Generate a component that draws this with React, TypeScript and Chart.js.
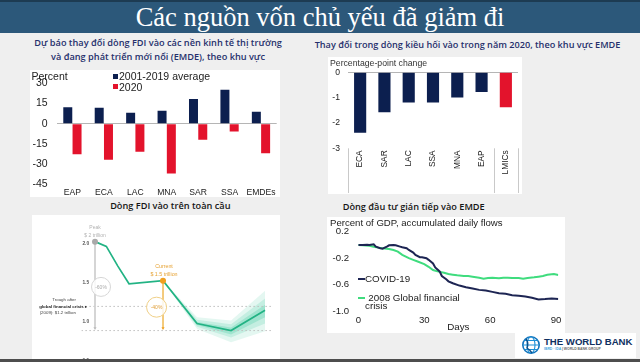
import React, { useEffect, useRef } from "react";
import { Chart, registerables } from "chart.js";

Chart.register(...registerables);
Chart.defaults.font.family = "'Liberation Sans', Arial, sans-serif";
Chart.defaults.color = "#222";

// ---------- Chart 1: FDI change by region ----------
const fdiRegions = ["EAP", "ECA", "LAC", "MNA", "SAR", "SSA", "EMDEs"];
const fdiAverage = [12.3, 11.9, 8.2, 9.6, 18.3, 25.2, 8.9];
const fdi2020 = [-22.6, -26.7, -20.8, -36.9, -11.9, -5.7, -22.0];
const fdiSeriesNames = ["2001-2019 average", "2020"];

// ---------- Chart 2: remittances change ----------
const remitRegions = ["ECA", "SAR", "LAC", "SSA", "MNA", "EAP", "LMICs"];
const remitChange = [-2.39, -1.58, -1.19, -1.19, -0.99, -0.78, -1.38];

// ---------- Chart 3: global FDI ($ trillion) ----------
const globalPos = [0, 1, 2, 3, 6, 9, 12, 15];
const globalFdi = [2.03, 1.97, 1.72, 1.49, 1.53, 0.98, 0.89, 1.15];
const bandPos = [6, 9, 12, 15];
const outerHi = [1.53, 1.06, 1.02, 1.4];
const outerLo = [1.53, 0.91, 0.74, 0.88];
const midHi = [1.53, 1.03, 0.97, 1.3];
const midLo = [1.53, 0.94, 0.8, 0.98];
const innerHi = [1.53, 1.0, 0.93, 1.22];
const innerLo = [1.53, 0.96, 0.84, 1.06];
const troughLevel = 1.2;
const floorLevel = 0.89;
const arrowEnd = 0.92;
const pctBadges = [
  { x: 0.53, y: 1.45 },
  { x: 5.43, y: 1.19 },
];

// ---------- Chart 4: portfolio flows ----------
const covidDays = [0, 2, 4, 5, 7, 8, 10, 11, 13, 14, 16, 17, 19, 20, 22, 23, 25, 26, 28, 29, 31, 32, 34, 35, 37, 38, 40, 41, 43, 46, 49, 52, 55, 58, 61, 64, 67, 70, 73, 76, 79, 82, 85, 88, 91];
const covidFlows = [0, 0, 0.005, 0, 0.01, -0.025, -0.05, -0.055, -0.025, -0.005, 0, -0.005, -0.025, -0.035, -0.05, -0.075, -0.115, -0.15, -0.185, -0.185, -0.2, -0.225, -0.28, -0.34, -0.4, -0.47, -0.52, -0.55, -0.58, -0.615, -0.64, -0.66, -0.68, -0.69, -0.71, -0.73, -0.74, -0.76, -0.77, -0.78, -0.8, -0.825, -0.82, -0.81, -0.82];
const gfcDays = [0, 2, 5, 7, 9, 11, 14, 16, 18, 20, 23, 25, 27, 30, 32, 34, 36, 39, 41, 43, 45, 48, 50, 52, 55, 57, 59, 61, 64, 66, 68, 70, 73, 75, 77, 80, 82, 84, 86, 89, 91];
const gfcFlows = [0, -0.005, -0.01, -0.025, -0.04, -0.05, -0.06, -0.075, -0.1, -0.15, -0.2, -0.225, -0.25, -0.29, -0.33, -0.38, -0.4, -0.42, -0.44, -0.45, -0.46, -0.47, -0.47, -0.48, -0.495, -0.51, -0.5, -0.495, -0.505, -0.495, -0.495, -0.5, -0.5, -0.51, -0.5, -0.49, -0.48, -0.47, -0.45, -0.44, -0.455];

const NAVY = "#0c1f4f";
const RED = "#e3132c";
const LINE_NAVY = "#1d2553";
const LINE_GREEN = "#3fdc7e";
const FDI_GREEN = "#22b384";
const ORANGE = "#f0a020";

const pts = (xs: number[], ys: number[]) => xs.map((x, i) => ({ x, y: ys[i] }));
const zeroGrid = (c: any) => (c.tick && Math.abs(c.tick.value) < 1e-9 ? "#b5b5b5" : "rgba(0,0,0,0)");
// fix an axis' size and drop the label-overhang padding Chart.js would add to the chart area
const fixWidth = (w: number) => (s: any) => { s.width = w; s.paddingTop = 0; s.paddingBottom = 0; };
const fixHeight = (h: number) => (s: any) => { s.height = h; };

function ChartCanvas({ left, top, width, height, make }: any) {
  const ref = useRef<HTMLCanvasElement>(null);
  useEffect(() => {
    const chart = new Chart(ref.current as HTMLCanvasElement, make());
    return () => chart.destroy();
  }, []);
  return (
    <canvas
      ref={ref}
      width={width}
      height={height}
      style={{ position: "absolute", left, top, width, height }}
    />
  );
}

function T({ x, y, text, size = 9, color = "#222", align = "left", weight = 400, family, style }: any) {
  const tx = align === "left" ? "0" : align === "center" ? "-50%" : "-100%";
  return (
    <div
      style={{
        position: "absolute",
        left: x,
        top: y,
        transform: `translate(${tx}, -50%)`,
        whiteSpace: "nowrap",
        fontSize: size,
        lineHeight: 1,
        color,
        fontWeight: weight,
        fontFamily: family || "'Liberation Sans', Arial, sans-serif",
        ...style,
      }}
    >
      {text}
    </div>
  );
}

const chart1 = () => ({
  type: "bar",
  data: {
    labels: fdiRegions,
    datasets: [
      { label: fdiSeriesNames[0], data: fdiAverage, backgroundColor: NAVY, categoryPercentage: 0.59, barPercentage: 0.97 },
      { label: fdiSeriesNames[1], data: fdi2020, backgroundColor: RED, categoryPercentage: 0.59, barPercentage: 0.97 },
    ],
  },
  options: {
    responsive: false,
    animation: false,
    layout: { autoPadding: false, padding: { top: 13.3, right: 3.3, left: 0, bottom: 0 } },
    plugins: { legend: { display: false }, tooltip: { enabled: false } },
    scales: {
      x: {
        grid: { display: false, drawTicks: false },
        border: { display: false },
        ticks: { font: { size: 8.6 }, color: "#222", padding: 3.5, maxRotation: 0, autoSkip: false },
        afterFit: fixHeight(12.7),
      },
      y: {
        min: -45,
        max: 30,
        ticks: { stepSize: 15, font: { size: 10.5 }, color: "#222", padding: 9 },
        grid: { color: zeroGrid, drawTicks: false, lineWidth: 1 },
        border: { display: false },
        afterFit: fixWidth(26.7),
      },
    },
  },
});

const separatorPlugin = {
  id: "separators",
  afterDraw(chart: any) {
    const { ctx, chartArea } = chart;
    const x = chart.scales.x;
    const half = (x.getPixelForValue(1) - x.getPixelForValue(0)) / 2;
    const xs = [x.getPixelForValue(0) - half, x.getPixelForValue(5) + half, x.getPixelForValue(6) + half];
    ctx.save();
    ctx.strokeStyle = "#c9c9c9";
    ctx.lineWidth = 1;
    xs.forEach((px: number) => {
      const p = Math.round(px) + 0.5;
      ctx.beginPath();
      ctx.moveTo(p, chartArea.bottom);
      ctx.lineTo(p, chart.height - 1);
      ctx.stroke();
    });
    ctx.restore();
  },
};

const chart2 = () => ({
  type: "bar",
  data: {
    labels: remitRegions,
    datasets: [
      {
        label: "Percentage-point change",
        data: remitChange,
        backgroundColor: remitRegions.map((r) => (r === "LMICs" ? RED : NAVY)),
        categoryPercentage: 0.5,
        barPercentage: 1,
      },
    ],
  },
  options: {
    responsive: false,
    animation: false,
    layout: { autoPadding: false, padding: { top: 15.3, right: 4, left: 0, bottom: 0 } },
    plugins: { legend: { display: false }, tooltip: { enabled: false } },
    scales: {
      x: {
        grid: { display: false, drawTicks: false },
        border: { display: false },
        ticks: { font: { size: 8.4 }, color: "#222", padding: 2, minRotation: 90, maxRotation: 90, autoSkip: false },
        afterFit: fixHeight(45.7),
      },
      y: {
        min: -3,
        max: 0,
        ticks: { stepSize: 1, font: { size: 8.6 }, color: "#222", padding: 8 },
        grid: { color: zeroGrid, drawTicks: false, lineWidth: 1 },
        border: { display: false },
        afterFit: fixWidth(20),
      },
    },
  },
  plugins: [separatorPlugin],
});

const band = (hi: number[], lo: number[], alpha: number) => [
  { data: pts(bandPos, hi), borderWidth: 0, pointRadius: 0, fill: "+1", backgroundColor: `rgba(34,190,140,${alpha})`, order: 10 },
  { data: pts(bandPos, lo), borderWidth: 0, pointRadius: 0, fill: false, order: 10 },
];

const chart3 = () => ({
  type: "line",
  data: {
    datasets: [
      ...band(outerHi, outerLo, 0.12),
      ...band(midHi, midLo, 0.16),
      ...band(innerHi, innerLo, 0.22),
      {
        data: [{ x: -1.2, y: troughLevel }, { x: 15.7, y: troughLevel }],
        borderColor: "#bdbdbd", borderWidth: 1, borderDash: [1.5, 2.5], pointRadius: 0, order: 9,
      },
      {
        data: [{ x: -1.2, y: floorLevel }, { x: 15.7, y: floorLevel }],
        borderColor: "#bdbdbd", borderWidth: 1, borderDash: [1.5, 2.5], pointRadius: 0, order: 9,
      },
      {
        data: [{ x: globalPos[0], y: globalFdi[0] }, { x: globalPos[0], y: arrowEnd }],
        borderColor: "#cfcfcf", borderWidth: 1, pointRadius: [0, 1.8], pointStyle: "triangle", rotation: 180,
        pointBackgroundColor: "#bbbbbb", pointBorderWidth: 0, order: 8,
      },
      {
        data: [{ x: globalPos[4], y: globalFdi[4] }, { x: globalPos[4], y: arrowEnd }],
        borderColor: "#f2c46a", borderWidth: 1, pointRadius: [0, 1.8], pointStyle: "triangle", rotation: 180,
        pointBackgroundColor: ORANGE, pointBorderWidth: 0, order: 8,
      },
      {
        data: pts(globalPos, globalFdi),
        borderColor: FDI_GREEN, borderWidth: 1.7, pointRadius: 0, tension: 0, order: 3,
      },
      {
        data: [pctBadges[0]],
        showLine: false, pointRadius: 9.5, pointBackgroundColor: "rgba(255,255,255,0.85)",
        pointBorderColor: "#d6d6d6", pointBorderWidth: 1, order: 2,
      },
      {
        data: [pctBadges[1]],
        showLine: false, pointRadius: 10, pointBackgroundColor: "rgba(255,255,255,0.85)",
        pointBorderColor: "#efcf86", pointBorderWidth: 1, order: 2,
      },
      {
        data: [{ x: globalPos[0], y: globalFdi[0] }],
        showLine: false, pointRadius: 3, pointBackgroundColor: "#a9a9a9", pointBorderWidth: 0, order: 1,
      },
      {
        data: [{ x: globalPos[4], y: globalFdi[4] }],
        showLine: false, pointRadius: 3, pointBackgroundColor: ORANGE, pointBorderWidth: 0, order: 1,
      },
    ],
  },
  options: {
    responsive: false,
    animation: false,
    layout: { autoPadding: false, padding: { top: 5.6, right: 7, left: 0, bottom: 1 } },
    plugins: { legend: { display: false }, tooltip: { enabled: false } },
    scales: {
      x: { type: "linear", min: -1.2, max: 15.7, display: false },
      y: {
        min: 0.5,
        max: 2.3,
        grid: { display: false, drawTicks: false },
        border: { display: false },
        ticks: {
          stepSize: 0.5,
          includeBounds: false,
          mirror: true,
          padding: 1,
          font: { size: 4.8, weight: "bold" },
          color: "#555",
          callback: (v: any) => Number(v).toFixed(1),
        },
        afterFit: fixWidth(49.4),
      },
    },
  },
});

const chart4 = () => ({
  type: "line",
  data: {
    datasets: [
      { label: "COVID-19", data: pts(covidDays, covidFlows), borderColor: LINE_NAVY, borderWidth: 2, pointRadius: 0, tension: 0 },
      { label: "2008 Global financial crisis", data: pts(gfcDays, gfcFlows), borderColor: LINE_GREEN, borderWidth: 2, pointRadius: 0, tension: 0 },
    ],
  },
  options: {
    responsive: false,
    animation: false,
    layout: { autoPadding: false, padding: { top: 14.8, right: 6.7, left: 0, bottom: 0 } },
    plugins: { legend: { display: false }, tooltip: { enabled: false } },
    scales: {
      x: {
        type: "linear",
        min: 0,
        max: 91,
        grid: { display: false, drawTicks: false },
        border: { display: false },
        ticks: { stepSize: 30, includeBounds: false, font: { size: 9.6 }, color: "#222", padding: 3.4, maxRotation: 0 },
        title: { display: true, text: "Days", font: { size: 9.8 }, color: "#222", padding: 0 },
        afterFit: fixHeight(22),
      },
      y: {
        min: -1.0,
        max: 0.2,
        ticks: { stepSize: 0.2, font: { size: 9.6 }, color: "#222", padding: 9.3, callback: (v: any) => Number(v).toFixed(1) },
        grid: { color: zeroGrid, drawTicks: false, lineWidth: 1 },
        border: { display: false },
        afterFit: fixWidth(31.3),
      },
    },
  },
});

const TITLE_FONT = "'Open Sans', 'Noto Sans', sans-serif";
const TITLE_BLUE = "#26306c";

function WorldBankLogo() {
  return (
    <div style={{ position: "absolute", left: 515, top: 333, width: 121, height: 25, background: "#fff" }}>
      <svg width="20" height="20" viewBox="0 0 20 20" style={{ position: "absolute", left: 6, top: 2 }}>
        <circle cx="10" cy="10" r="8.2" fill="none" stroke="#1274bd" strokeWidth="1.6" />
        <ellipse cx="10" cy="10" rx="4" ry="8.2" fill="none" stroke="#1c8fd6" strokeWidth="1.1" />
        <path d="M2 10 H18 M3.5 5.5 H16.5 M3.5 14.5 H16.5" stroke="#1c8fd6" strokeWidth="1" fill="none" />
        <path d="M5 4 Q8 8 6 13 Q9 15 11 18" stroke="#0b4f8a" strokeWidth="1.4" fill="none" />
      </svg>
      <T x={29} y={9.3} text="THE WORLD BANK" size={9.6} weight={700} color="#10305f" />
      <div style={{ position: "absolute", left: 29, top: 14.6, fontSize: 3.4, lineHeight: 1, whiteSpace: "nowrap", fontFamily: "'Liberation Sans', Arial, sans-serif", fontWeight: 700 }}>
        <span style={{ color: "#46a6e0" }}>IBRD · IDA</span>
        <span style={{ color: "#666" }}> | WORLD BANK GROUP</span>
      </div>
    </div>
  );
}

export default function App() {
  return (
    <div style={{ position: "fixed", left: 0, top: 0, width: 640, height: 362, background: "#efefef", overflow: "hidden" }}>
      {/* Title bar */}
      <div style={{ position: "absolute", left: 0, top: 0, width: 640, height: 33, background: "#2c587a", borderTop: "2px solid #1d3b52", boxSizing: "border-box" }} />
      <T x={320} y={17} align="center" text="Các nguồn vốn chủ yếu đã giảm đi" size={26.5} color="#ffffff" family="'Liberation Serif', 'DejaVu Serif', serif" />

      {/* Panel titles */}
      <T x={158} y={43.3} align="center" text="Dự báo thay đổi dòng FDI vào các nền kinh tế thị trường" size={9.2} weight={600} color={TITLE_BLUE} family={TITLE_FONT} />
      <T x={158} y={56.7} align="center" text="và đang phát triển mới nổi (EMDE), theo khu vực" size={9.2} weight={600} color={TITLE_BLUE} family={TITLE_FONT} />
      <T x={467.5} y={45} align="center" text="Thay đổi trong dòng kiều hối vào trong năm 2020, theo khu vực EMDE" size={9.15} weight={600} color={TITLE_BLUE} family={TITLE_FONT} />
      <T x={170.3} y={206} align="center" text="Dòng FDI vào trên toàn cầu" size={9.2} weight={600} color="#151515" family={TITLE_FONT} />
      <T x={413.7} y={206.7} align="center" text="Dòng đầu tư gián tiếp vào EMDE" size={9.2} weight={600} color="#151515" family={TITLE_FONT} />

      {/* Chart 1 */}
      <div style={{ position: "absolute", left: 30, top: 70, width: 250, height: 127, background: "#fff" }} />
      <ChartCanvas left={30} top={70} width={250} height={127} make={chart1} />
      <T x={31.5} y={76} text="Percent" size={10.5} />
      <div style={{ position: "absolute", left: 113, top: 73.6, width: 5, height: 5, background: NAVY }} />
      <T x={119} y={76} text={fdiSeriesNames[0]} size={10.5} />
      <div style={{ position: "absolute", left: 113, top: 84.4, width: 5, height: 5, background: RED }} />
      <T x={119} y={87} text={fdiSeriesNames[1]} size={10.5} />

      {/* Chart 2 */}
      <div style={{ position: "absolute", left: 328, top: 57, width: 194, height: 137, background: "#fff" }} />
      <ChartCanvas left={328} top={57} width={194} height={137} make={chart2} />
      <T x={330} y={63.3} text="Percentage-point change" size={8.7} color="#333" />

      {/* Chart 3 */}
      <div style={{ position: "absolute", left: 32, top: 215, width: 248, height: 147, background: "#fff" }} />
      <ChartCanvas left={32} top={215} width={248} height={147} make={chart3} />
      <T x={95} y={227} align="center" text="Peak" size={5} color="#b3b3b3" />
      <T x={95} y={235} align="center" text="$ 2 trillion" size={5} color="#b3b3b3" />
      <T x={164} y={266.5} align="center" text="Current" size={5.3} color="#e6a233" />
      <T x={164} y={274.5} align="center" text="$ 1.5 trillion" size={5.3} color="#e6a233" />
      <T x={101} y={287} align="center" text="-60%" size={5} color="#aaaaaa" />
      <T x={156.5} y={307} align="center" text="-40%" size={5} color="#e2a03a" />
      <T x={76} y={299.5} align="right" text="Trough after" size={4.4} color="#444" />
      <T x={87} y={306.7} align="right" text="global financial crisis ▸" size={4.4} color="#222" weight={700} />
      <T x={76} y={313} align="right" text="(2009): $1.2 trillion" size={4.4} color="#444" />

      {/* Chart 4 */}
      <div style={{ position: "absolute", left: 327, top: 217, width: 238, height: 116, background: "#fff" }} />
      <ChartCanvas left={327} top={217} width={238} height={116} make={chart4} />
      <T x={330} y={223.3} text="Percent of GDP, accumulated daily flows" size={9.6} />
      <div style={{ position: "absolute", left: 358.3, top: 278.3, width: 7, height: 2, background: LINE_NAVY }} />
      <T x={365} y={279.3} text="COVID-19" size={9.8} />
      <div style={{ position: "absolute", left: 358.3, top: 296.7, width: 7, height: 2, background: LINE_GREEN }} />
      <T x={368.3} y={297.7} text="2008 Global financial" size={9.8} />
      <T x={365} y={306} text="crisis" size={9.8} />

      <WorldBankLogo />

      {/* Bottom bar */}
      <div style={{ position: "absolute", left: 0, top: 359, width: 640, height: 3, background: "#4d4d4d" }} />
    </div>
  );
}
